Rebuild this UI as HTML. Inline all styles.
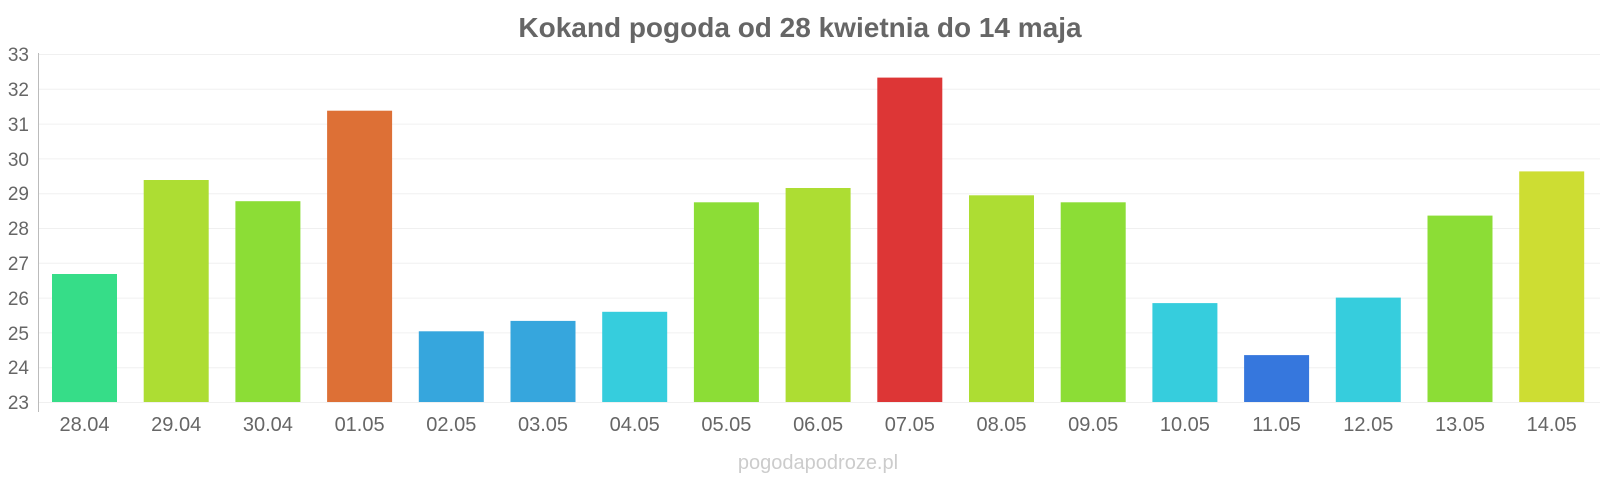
<!DOCTYPE html>
<html><head><meta charset="utf-8"><style>
html,body{margin:0;padding:0;background:#fff;}
svg{display:block;font-family:"Liberation Sans",sans-serif;}
</style></head><body>
<svg width="1600" height="480" viewBox="0 0 1600 480" xmlns="http://www.w3.org/2000/svg">
<text x="800" y="37" text-anchor="middle" font-size="28" font-weight="bold" fill="#666">Kokand pogoda od 28 kwietnia do 14 maja</text>
<g stroke="#f0f0f0" stroke-width="1">
<line x1="39" x2="1600" y1="54.5" y2="54.5"/><line x1="39" x2="1600" y1="89.3" y2="89.3"/>
<line x1="39" x2="1600" y1="124.1" y2="124.1"/><line x1="39" x2="1600" y1="158.9" y2="158.9"/>
<line x1="39" x2="1600" y1="193.7" y2="193.7"/><line x1="39" x2="1600" y1="228.5" y2="228.5"/>
<line x1="39" x2="1600" y1="263.3" y2="263.3"/><line x1="39" x2="1600" y1="298.1" y2="298.1"/>
<line x1="39" x2="1600" y1="332.9" y2="332.9"/><line x1="39" x2="1600" y1="367.7" y2="367.7"/>
<line x1="39" x2="1600" y1="402.5" y2="402.5"/>
</g>
<line x1="38.5" x2="38.5" y1="53" y2="412" stroke="#bbb"/>
<g font-size="19" fill="#666" text-anchor="end">
<text x="29" y="61">33</text><text x="29" y="96">32</text><text x="29" y="131">31</text><text x="29" y="166">30</text>
<text x="29" y="200">29</text><text x="29" y="235">28</text><text x="29" y="270">27</text><text x="29" y="305">26</text>
<text x="29" y="340">25</text><text x="29" y="374">24</text><text x="29" y="409">23</text>
</g>
<g>
<rect x="52" y="274.0" width="65" height="128" fill="#36dd88"/>
<rect x="143.7" y="180.0" width="65" height="222" fill="#addd33"/>
<rect x="235.4" y="201.2" width="65" height="200.8" fill="#8cdd36"/>
<rect x="327.1" y="110.7" width="65" height="291.3" fill="#dd7036"/>
<rect x="418.8" y="331.3" width="65" height="70.7" fill="#36a6dd"/>
<rect x="510.5" y="320.9" width="65" height="81.1" fill="#36a6dd"/>
<rect x="602.2" y="311.8" width="65" height="90.2" fill="#36cddd"/>
<rect x="693.9" y="202.3" width="65" height="199.7" fill="#8cdd36"/>
<rect x="785.6" y="188.0" width="65" height="214" fill="#addd33"/>
<rect x="877.3" y="77.6" width="65" height="324.4" fill="#dd3636"/>
<rect x="969.0" y="195.3" width="65" height="206.7" fill="#addd33"/>
<rect x="1060.7" y="202.3" width="65" height="199.7" fill="#8cdd36"/>
<rect x="1152.4" y="303.1" width="65" height="98.9" fill="#36cddd"/>
<rect x="1244.1" y="355.1" width="65" height="46.9" fill="#3677dd"/>
<rect x="1335.8" y="297.6" width="65" height="104.4" fill="#36cddd"/>
<rect x="1427.5" y="215.6" width="65" height="186.4" fill="#8cdd36"/>
<rect x="1519.2" y="171.4" width="65" height="230.6" fill="#cddd33"/>
</g>
<g font-size="20" fill="#666" text-anchor="middle">
<text x="84.5" y="431">28.04</text><text x="176.2" y="431">29.04</text><text x="267.9" y="431">30.04</text>
<text x="359.6" y="431">01.05</text><text x="451.3" y="431">02.05</text><text x="543" y="431">03.05</text>
<text x="634.7" y="431">04.05</text><text x="726.4" y="431">05.05</text><text x="818.1" y="431">06.05</text>
<text x="909.8" y="431">07.05</text><text x="1001.5" y="431">08.05</text><text x="1093.2" y="431">09.05</text>
<text x="1184.9" y="431">10.05</text><text x="1276.6" y="431">11.05</text><text x="1368.3" y="431">12.05</text>
<text x="1460" y="431">13.05</text><text x="1551.7" y="431">14.05</text>
</g>
<text x="818" y="469" text-anchor="middle" font-size="20" fill="#ccc">pogodapodroze.pl</text>
</svg>
</body></html>
